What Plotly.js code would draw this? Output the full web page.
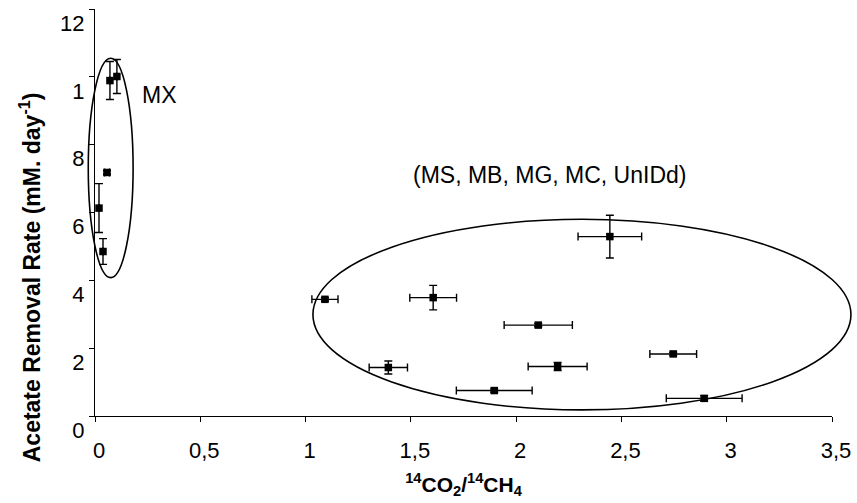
<!DOCTYPE html>
<html>
<head>
<meta charset="utf-8">
<script src="https://cdn.plot.ly/plotly-3.0.1.min.js"></script>
<style>html,body{margin:0;padding:0;background:#fff;}#chart{width:857px;height:503px;}</style>
</head>
<body>
<div id="chart"></div>
<script>
// MX group
var mxX = [0.071, 0.104, 0.057, 0.019, 0.038];
var mxY = [9.89, 10.01, 7.18, 6.13, 4.85];
var mxXErr = [0, 0, 0.012, 0, 0];
var mxYErr = [0.56, 0.5, 0.06, 0.72, 0.38];

// (MS, MB, MG, MC, UnIDd) group
var grpX = [1.092, 1.606, 2.105, 1.393, 2.197, 1.896, 2.445, 2.746, 2.893];
var grpY = [3.44, 3.49, 2.68, 1.43, 1.46, 0.75, 5.29, 1.83, 0.52];
var grpXErr = [0.062, 0.111, 0.162, 0.091, 0.14, 0.18, 0.151, 0.111, 0.18];
var grpYErr = [0.05, 0.36, 0.05, 0.19, 0.12, 0.05, 0.63, 0.05, 0.08];

// axis ticks
var xTickVals = [0, 0.5, 1, 1.5, 2, 2.5, 3, 3.5];
var xTickText = ["0", "0,5", "1", "1,5", "2", "2,5", "3", "3,5"];
var yTickVals = [0, 2, 4, 6, 8, 10, 12];
var yTickText = ["0", "2", "4", "6", "8", "1", "12"];

// group ellipses (data units: xmin, xmax, ymin, ymax)
var mxEllipse = [-0.032, 0.181, 4.08, 10.55];
var grpEllipse = [1.035, 3.59, 0.18, 5.80];

var xRange = [0, 3.5];
var yRange = [0, 12];

function px(x) { return (x - xRange[0]) / (xRange[1] - xRange[0]); }
function py(y) { return (y - yRange[0]) / (yRange[1] - yRange[0]); }
function ellipse(e) {
  return {type: 'circle', xref: 'paper', yref: 'paper',
    x0: px(e[0]), x1: px(e[1]), y0: py(e[2]), y1: py(e[3]),
    line: {color: '#000', width: 1.6}, layer: 'above'};
}

var font = 'Arial, "Liberation Sans", sans-serif';

function trace(x, y, ex, ey, name) {
  return {
    type: 'scatter', mode: 'markers', name: name, x: x, y: y,
    marker: {symbol: 'square', size: 7.5, color: '#000'},
    error_x: {type: 'data', array: ex, visible: true, color: '#000', thickness: 1.4, width: 4},
    error_y: {type: 'data', array: ey, visible: true, color: '#000', thickness: 1.4, width: 4},
    cliponaxis: false, showlegend: false
  };
}

var data = [
  trace(mxX, mxY, mxXErr, mxYErr, 'MX'),
  trace(grpX, grpY, grpXErr, grpYErr, '(MS, MB, MG, MC, UnIDd)')
];

var layout = {
  width: 857, height: 503,
  margin: {l: 95, r: 25, t: 9, b: 87},
  paper_bgcolor: '#fff', plot_bgcolor: '#fff',
  font: {family: font, color: '#000', size: 22},
  showlegend: false,
  xaxis: {
    range: xRange, tickmode: 'array', tickvals: xTickVals, ticktext: xTickText,
    showgrid: false, zeroline: false, showline: true, linecolor: '#000', linewidth: 1,
    ticks: 'outside', ticklen: 5, tickcolor: '#000', tickwidth: 1,
    tickfont: {family: font, size: 22, color: '#000'},
    ticklabelstandoff: 10, ticklabelshift: 4,
    title: {text: '<b><sup>14</sup>CO<sub>2</sub>/<sup>14</sup>CH<sub>4</sub></b>',
      font: {family: font, size: 21, color: '#000'}, standoff: 14}
  },
  yaxis: {
    range: yRange, tickmode: 'array', tickvals: yTickVals, ticktext: yTickText,
    showgrid: false, zeroline: false, showline: true, linecolor: '#000', linewidth: 1,
    ticks: 'outside', ticklen: 5, tickcolor: '#000', tickwidth: 1,
    tickfont: {family: font, size: 22, color: '#000'},
    ticklabelshift: 14, ticklabelstandoff: 0
  },
  shapes: [ellipse(mxEllipse), ellipse(grpEllipse)],
  annotations: [
    {text: 'MX', x: 0.304, y: 9.47, xref: 'x', yref: 'y', showarrow: false,
      font: {family: font, size: 23, color: '#000'}},
    {text: '(MS, MB, MG, MC, UnIDd)', x: 2.16, y: 7.11, xref: 'x', yref: 'y', showarrow: false,
      font: {family: font, size: 23, color: '#000'}},
    {text: '<b>Acetate Removal Rate (mM. day<sup>-1</sup>)</b>', textangle: -90,
      xref: 'paper', yref: 'paper', x: -0.088, y: py(12 - (277 - 9) / 33.9), xanchor: 'center', yanchor: 'middle',
      showarrow: false, font: {family: font, size: 23, color: '#000'}}
  ]
};

Plotly.newPlot('chart', data, layout, {displayModeBar: false, staticPlot: true});
</script>
</body>
</html>
